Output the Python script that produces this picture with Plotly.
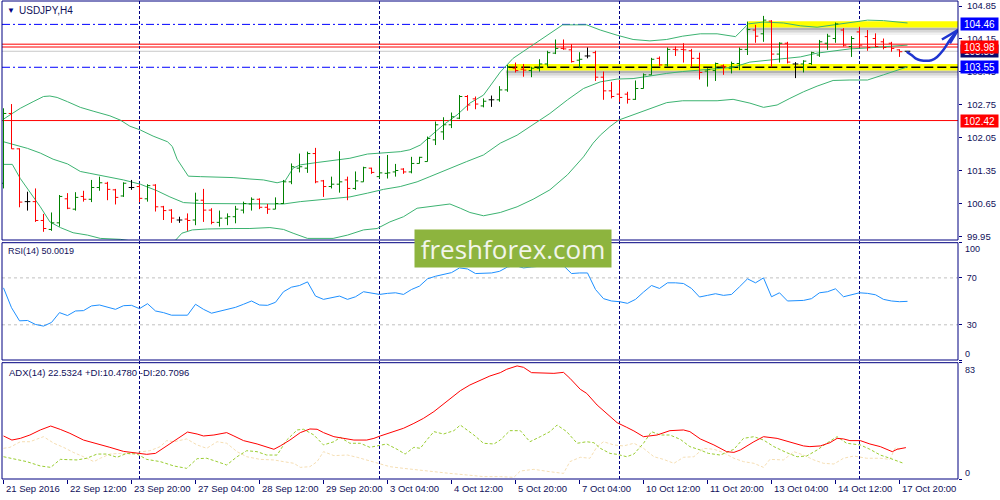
import plotly.graph_objects as go

# ---------------- data ----------------
symbol_title = "USDJPY,H4"
rsi_title = "RSI(14) 50.0019"
adx_title = "ADX(14) 22.5324 +DI:10.4780 -DI:20.7096"

bar_open = [101.09, 102.57, 101.82, 100.70, 100.70, 100.30, 100.11, 100.25, 100.76, 100.54,
            100.81, 100.75, 101.00, 101.09, 100.95, 100.82, 101.00, 101.02, 100.76, 101.05,
            100.59, 100.52, 100.31, 100.33, 100.31, 100.73, 100.52, 100.26, 100.35, 100.38,
            100.52, 100.65, 100.75, 100.58, 100.54, 100.66, 101.12, 101.41, 101.41, 101.72,
            101.14, 101.02, 101.07, 101.16, 100.98, 101.12, 101.41, 101.23, 101.30, 101.33,
            101.39, 101.33, 101.51, 101.55, 102.01, 102.18, 102.33, 102.47, 102.93, 102.88,
            102.73, 102.86, 102.86, 103.07, 103.53, 103.51, 103.48, 103.53, 103.62, 103.85,
            103.95, 103.92, 103.70, 103.79, 103.86, 103.34, 103.05, 102.98, 102.98, 102.87,
            103.10, 103.39, 103.74, 103.60, 103.93, 103.93, 103.90, 103.74, 103.47, 103.48,
            103.58, 103.53, 103.63, 103.93, 104.34, 104.26, 104.53, 103.83, 104.06, 103.62,
            103.62, 103.63, 103.81, 104.06, 104.16, 104.34, 103.99, 104.30, 104.20, 104.16,
            104.09, 104.06, 103.92, 103.89]
bar_high = [102.68, 102.77, 101.83, 100.91, 100.98, 100.44, 100.47, 100.84, 100.88, 100.90,
            100.93, 101.16, 101.23, 101.12, 100.97, 101.11, 101.16, 101.07, 101.07, 101.07,
            100.61, 100.54, 100.38, 100.45, 100.89, 100.97, 100.56, 100.51, 100.45, 100.61,
            100.70, 100.79, 100.77, 100.65, 100.79, 101.16, 101.51, 101.72, 101.76, 101.84,
            101.16, 101.23, 101.77, 101.23, 101.34, 101.44, 101.42, 101.62, 101.69, 101.50,
            101.41, 101.65, 101.65, 102.08, 102.40, 102.49, 102.59, 102.96, 102.96, 102.93,
            102.89, 102.95, 103.15, 103.60, 103.65, 103.62, 103.56, 103.72, 103.90, 104.14,
            104.14, 104.04, 103.87, 103.97, 103.90, 103.46, 103.24, 103.28, 103.03, 103.27,
            103.42, 103.75, 103.78, 103.97, 103.99, 104.06, 103.94, 103.86, 103.53, 103.65,
            103.61, 103.67, 103.97, 104.52, 104.45, 104.64, 104.55, 104.08, 104.09, 103.66,
            103.70, 103.88, 104.13, 104.26, 104.50, 104.38, 104.21, 104.41, 104.34, 104.27,
            104.16, 104.09, 103.93, 103.89]
bar_low = [100.98, 101.82, 100.58, 100.51, 100.27, 100.06, 100.08, 100.17, 100.54, 100.51,
           100.70, 100.69, 100.93, 100.73, 100.64, 100.80, 100.95, 100.69, 100.70, 100.49,
           100.31, 100.25, 100.25, 100.08, 100.20, 100.27, 100.22, 100.17, 100.20, 100.24,
           100.45, 100.51, 100.54, 100.44, 100.54, 100.65, 101.07, 101.32, 101.31, 101.09,
           100.80, 100.98, 100.89, 100.73, 100.95, 101.12, 101.29, 101.19, 101.19, 101.23,
           101.29, 101.30, 101.51, 101.55, 101.90, 102.01, 102.26, 102.45, 102.63, 102.66,
           102.70, 102.71, 102.82, 103.03, 103.44, 103.35, 103.34, 103.46, 103.56, 103.83,
           103.92, 103.65, 103.53, 103.74, 103.26, 102.86, 102.89, 102.82, 102.78, 102.86,
           103.10, 103.39, 103.58, 103.56, 103.79, 103.65, 103.56, 103.29, 103.14, 103.26,
           103.39, 103.42, 103.49, 103.81, 104.07, 104.09, 103.55, 103.65, 103.63, 103.32,
           103.44, 103.60, 103.77, 103.92, 104.07, 103.99, 103.77, 103.97, 103.90, 103.97,
           103.93, 103.88, 103.77, 103.85]
bar_close = [102.57, 101.82, 100.69, 100.70, 100.30, 100.13, 100.25, 100.81, 100.56, 100.79,
             100.75, 101.00, 101.10, 100.96, 100.79, 101.09, 101.00, 100.77, 101.04, 100.59,
             100.51, 100.35, 100.31, 100.30, 100.73, 100.52, 100.26, 100.35, 100.38, 100.54,
             100.66, 100.75, 100.58, 100.54, 100.66, 101.12, 101.44, 101.44, 101.72, 101.12,
             101.02, 101.07, 101.12, 100.98, 101.14, 101.42, 101.32, 101.31, 101.31, 101.36,
             101.33, 101.51, 101.64, 102.04, 102.33, 102.33, 102.50, 102.93, 102.75, 102.77,
             102.83, 102.86, 103.07, 103.56, 103.48, 103.49, 103.53, 103.62, 103.86, 103.95,
             103.94, 103.67, 103.72, 103.79, 103.34, 103.05, 102.93, 102.91, 102.87, 103.10,
             103.39, 103.72, 103.60, 103.93, 103.92, 103.92, 103.74, 103.44, 103.50, 103.63,
             103.56, 103.63, 103.93, 104.35, 104.21, 104.55, 103.83, 104.06, 103.66, 103.62,
             103.68, 103.86, 104.09, 104.21, 104.47, 104.02, 104.16, 104.02, 103.97, 103.99,
             103.97, 103.95, 103.88, 103.89]

# Bollinger bands, (bar index, price) points
bb_upper_x = [0, 1.1, 2.1, 3.7, 5.0, 5.8, 6.7, 8.0, 9.6, 11.2, 13.3, 14.6, 15.8, 17.1, 18.7, 20.5,
              21.1, 21.7, 22.5, 23.1, 24.6, 28.7, 30.8, 32.5, 34.2, 35.2, 36.2, 37.1, 39.2, 41.7,
              43.3, 45.5, 47.5, 49.6, 50.8, 52.1, 53.3, 55.0, 56.7, 58.3, 60.0, 62.1, 63.7, 65.5,
              67.1, 68.3, 69.9, 72.9, 74.6, 76.7, 78.7, 80.8, 82.9, 84.9, 87.1, 89.2, 91.5, 93.1,
              95.0, 97.5, 99.6, 101.7, 103.7, 105.8, 108.0, 110.0, 113]
bb_upper_y = [102.45, 102.57, 102.68, 102.82, 102.93, 102.94, 102.91, 102.82, 102.70, 102.62,
              102.52, 102.43, 102.30, 102.22, 102.09, 101.97, 101.87, 101.60, 101.41, 101.24,
              101.23, 101.21, 101.18, 101.16, 101.10, 101.14, 101.41, 101.48, 101.53, 101.58,
              101.62, 101.71, 101.74, 101.76, 101.80, 101.90, 102.08, 102.33, 102.54, 102.79,
              102.96, 103.45, 103.74, 103.95, 104.13, 104.27, 104.45, 104.45, 104.34, 104.23,
              104.14, 104.11, 104.14, 104.21, 104.26, 104.26, 104.20, 104.47, 104.51, 104.49,
              104.43, 104.40, 104.45, 104.49, 104.55, 104.54, 104.49]
bb_mid_x = [0, 1.2, 3.0, 4.6, 6.2, 8.0, 9.6, 10.8, 13.0, 15.0, 17.1, 19.2, 20.8, 22.5, 24.6, 28.7,
            30.8, 32.9, 35.0, 37.1, 39.2, 41.7, 43.3, 45.5, 47.5, 49.6, 51.7, 53.3, 55.8, 57.9,
            60.0, 62.1, 64.2, 66.2, 68.3, 70.5, 72.5, 74.6, 76.7, 78.7, 80.8, 82.9, 84.9, 87.1,
            89.2, 91.2, 93.3, 95.5, 97.5, 99.6, 101.7, 103.7, 105.8, 108.0, 110.0, 113]
bb_mid_y = [101.97, 101.92, 101.83, 101.73, 101.60, 101.50, 101.34, 101.30, 101.23, 101.16,
            101.07, 100.93, 100.80, 100.68, 100.66, 100.66, 100.65, 100.65, 100.65, 100.70,
            100.73, 100.77, 100.80, 100.88, 100.96, 101.02, 101.12, 101.23, 101.41, 101.55,
            101.69, 101.94, 102.11, 102.33, 102.57, 102.86, 103.10, 103.24, 103.30, 103.31,
            103.37, 103.42, 103.46, 103.49, 103.51, 103.55, 103.66, 103.70, 103.73, 103.77,
            103.85, 103.90, 103.94, 103.96, 103.98, 104.02]
bb_low_x = [0, 1.1, 2.1, 3.3, 4.6, 5.8, 7.1, 8.7, 10.5, 12.1, 14.6, 17.1, 19.6, 21.5, 22.3, 23.6,
            25.5, 28.7, 30.8, 33.3, 35.0, 36.2, 38.0, 41.2, 43.0, 45.0, 46.7, 48.3, 50.0, 51.7,
            53.3, 55.8, 57.1, 58.3, 60.0, 62.1, 64.2, 66.2, 68.3, 70.5, 72.5, 73.7, 74.6, 75.8,
            76.9, 78.7, 80.8, 82.9, 84.9, 87.1, 89.2, 91.2, 93.3, 95.0, 96.7, 98.3, 100.0, 101.7,
            103.7, 105.8, 108.0, 110.0, 111.8, 113]
bb_low_y = [101.49, 101.49, 101.19, 100.91, 100.59, 100.27, 100.15, 100.04, 99.99, 99.92,
            99.90, 99.84, 99.82, 99.88, 100.03, 100.10, 100.12, 100.13, 100.13, 100.15,
            100.11, 100.03, 99.92, 99.92, 99.99, 100.10, 100.13, 100.27, 100.38, 100.56,
            100.59, 100.65, 100.56, 100.47, 100.40, 100.47, 100.59, 100.75, 100.95, 101.27,
            101.65, 101.94, 102.11, 102.29, 102.43, 102.54, 102.66, 102.80, 102.84, 102.84,
            102.84, 102.87, 102.79, 102.70, 102.75, 102.89, 103.03, 103.15, 103.27, 103.28,
            103.28, 103.39, 103.49, 103.56]

# RSI(14), one value per bar
rsi_values = [61.5, 44.6, 33.4, 33.7, 30.3, 28.9, 32.0, 40.4, 37.9, 41.8,
              42.1, 46.1, 46.9, 45.2, 43.2, 46.3, 46.6, 43.8, 48.0, 41.8,
              40.4, 38.2, 38.2, 38.2, 47.5, 43.2, 39.9, 41.5, 43.2, 44.9,
              47.5, 50.3, 46.9, 46.6, 49.2, 58.2, 62.1, 63.5, 66.6, 54.5,
              51.7, 52.8, 54.5, 51.7, 53.9, 58.2, 56.8, 55.9, 56.8, 57.3,
              55.9, 60.1, 63.0, 69.2, 71.4, 72.8, 74.5, 78.5, 77.6, 73.7,
              74.2, 74.2, 75.6, 79.3, 80.4, 78.5, 79.3, 79.9, 81.3, 82.1,
              80.4, 73.7, 74.2, 74.2, 60.1, 52.3, 50.3, 49.7, 48.3, 51.7,
              57.9, 63.5, 61.0, 65.8, 65.8, 65.2, 61.0, 53.7, 55.1, 56.5,
              55.1, 55.9, 62.4, 69.2, 65.8, 70.0, 53.9, 57.3, 50.3, 50.3,
              50.8, 52.3, 57.3, 58.2, 60.7, 53.9, 55.9, 57.3, 56.8, 55.6,
              51.7, 50.3, 49.7, 50.0]

# ADX(14) and directional lines, (bar index, value) points
adx_x = [0, 1.05, 2.1, 3.3, 4.6, 5.9, 7.1, 8.3, 10.0, 11.3, 13.3, 15.0, 17.0, 17.9, 19.0, 20.4,
         21.7, 23.0, 24.2, 25.0, 26.3, 27.9, 28.8, 30.0, 31.7, 32.9, 33.8, 34.6, 35.8, 37.1,
         38.3, 39.2, 40.0, 41.3, 43.0, 43.8, 45.4, 46.3, 47.1, 48.8, 50.0, 51.3, 52.5, 53.8,
         55.0, 56.0, 57.1, 58.3, 59.6, 60.8, 62.1, 62.9, 64.2, 65.0, 66.0, 67.5, 68.8, 70.0,
         70.8, 72.1, 72.9, 74.2, 75.4, 76.7, 77.9, 78.8, 80.0, 81.7, 83.3, 85.0, 85.8, 87.1,
         88.8, 90.4, 91.3, 92.1, 93.8, 95.0, 96.7, 98.3, 100.0, 100.8, 102.1, 103.3, 104.2,
         105.0, 105.8, 107.1, 108.3, 109.6, 111.1, 111.7, 112.8]
adx_v = [30.7, 27.8, 29.0, 31.4, 35.0, 37.8, 35.4, 32.6, 27.8, 25.9, 22.6, 19.7, 18.3, 17.6,
         18.3, 23.6, 28.6, 33.5, 32.1, 30.7, 31.4, 33.1, 30.7, 27.4, 25.0, 22.6, 21.2, 23.6,
         27.8, 33.1, 35.7, 35.5, 33.1, 30.2, 28.3, 27.8, 27.8, 29.0, 30.7, 33.8, 36.2, 39.7,
         43.3, 48.1, 53.3, 57.6, 63.0, 67.1, 70.7, 73.5, 75.9, 78.3, 80.7, 79.7, 75.9, 75.4,
         75.4, 76.1, 71.9, 64.0, 61.1, 52.8, 46.9, 40.2, 36.9, 34.3, 30.2, 31.4, 34.5, 35.0,
         33.8, 28.6, 24.3, 19.5, 19.0, 20.7, 26.6, 30.2, 29.0, 26.6, 23.6, 23.1, 23.6, 25.9,
         29.0, 28.6, 27.4, 27.4, 25.0, 23.1, 19.5, 21.2, 22.4]
pdi_x = [0, 1.3, 2.9, 4.6, 5.9, 7.1, 9.2, 10.4, 11.7, 12.9, 14.2, 15.4, 16.7, 17.9, 19.6, 21.3,
         22.9, 24.2, 25.4, 26.7, 27.9, 29.2, 30.4, 31.7, 32.9, 34.2, 35.4, 36.7, 37.5, 38.8,
         40.0, 41.3, 42.1, 43.3, 44.6, 45.8, 47.1, 47.9, 49.2, 50.2, 51.3, 52.1, 52.9, 53.8,
         55.0, 56.3, 57.1, 58.8, 60.0, 61.3, 62.1, 63.3, 64.6, 65.8, 67.1, 68.3, 69.2, 70.4,
         71.7, 72.9, 73.8, 74.6, 75.8, 76.7, 77.9, 78.8, 80.0, 81.0, 82.1, 83.3, 84.6, 85.8,
         87.1, 88.1, 89.6, 91.3, 92.5, 93.8, 95.0, 96.3, 97.9, 99.2, 100.4, 101.7, 102.9,
         104.2, 105.4, 107.1, 108.3, 109.6, 110.8, 112.5]
pdi_v = [15.9, 14.3, 12.4, 9.3, 8.3, 14.0, 13.6, 14.8, 17.8, 17.8, 15.5, 18.3, 17.8, 14.0,
         12.4, 9.3, 7.6, 14.5, 14.8, 12.4, 10.0, 15.9, 20.2, 19.5, 17.1, 17.1, 27.8, 35.0,
         35.5, 31.4, 24.3, 26.6, 29.7, 25.5, 25.5, 22.6, 24.3, 25.0, 21.2, 17.8, 22.6, 21.9,
         27.8, 33.8, 32.1, 34.5, 38.5, 31.4, 25.5, 25.0, 27.8, 34.5, 34.5, 26.6, 30.2, 33.8,
         38.5, 33.8, 25.5, 26.6, 25.9, 21.9, 18.3, 17.6, 15.9, 17.8, 25.5, 33.8, 31.4, 31.4,
         28.3, 23.1, 20.7, 18.3, 17.1, 21.2, 29.0, 30.2, 27.8, 23.1, 18.8, 15.9, 16.4, 20.7,
         25.5, 30.2, 25.5, 24.3, 21.2, 17.1, 14.8, 11.2]
mdi_x = [0, 0.8, 2.1, 3.3, 5.0, 6.3, 7.5, 8.8, 10.0, 11.3, 12.1, 13.3, 14.6, 15.8, 17.0, 18.3,
         19.6, 20.4, 21.3, 22.9, 24.2, 25.4, 26.7, 27.9, 29.2, 30.4, 32.1, 33.8, 35.0, 36.3,
         37.1, 38.3, 39.2, 40.0, 41.3, 43.0, 44.2, 45.4, 47.1, 48.3, 50.0, 51.7, 53.8, 55.8,
         57.9, 60.0, 62.1, 63.8, 64.6, 66.3, 68.3, 70.0, 70.8, 72.1, 73.3, 74.2, 75.0, 76.3,
         77.5, 78.8, 80.0, 81.3, 82.5, 83.8, 85.0, 86.3, 87.5, 88.8, 90.0, 91.3, 92.5, 93.8,
         95.0, 95.8, 97.5, 98.8, 100.0, 101.3, 102.5, 103.8, 105.0, 106.3, 107.9, 109.6,
         110.8, 111.5, 112.1]
mdi_v = [21.9, 22.6, 26.6, 26.6, 30.2, 25.5, 22.6, 18.8, 15.9, 12.4, 14.8, 17.8, 18.3, 17.8,
         19.3, 20.2, 23.1, 27.4, 26.6, 28.6, 24.3, 21.9, 26.6, 25.5, 19.5, 15.9, 14.0, 13.6,
         12.4, 11.2, 8.3, 8.8, 12.4, 19.5, 16.7, 17.1, 15.5, 13.6, 10.7, 8.8, 7.6, 6.4, 5.0,
         4.0, 2.9, 1.7, 1.7, 1.2, 5.7, 6.9, 5.2, 4.0, 12.4, 15.5, 14.8, 23.1, 26.6, 24.3,
         23.6, 25.5, 21.9, 15.9, 14.0, 11.2, 15.5, 15.9, 21.9, 21.2, 18.8, 14.8, 12.4, 11.2,
         8.3, 14.0, 13.6, 19.5, 17.1, 13.6, 11.2, 10.7, 14.8, 16.4, 14.8, 14.8, 14.0, 22.6,
         20.7]

# time axis
x_tick_bars = [0, 8, 16, 24, 32, 40, 48, 56, 64, 72, 80, 88, 96, 104, 112]
x_tick_labels = ["21 Sep 2016", "22 Sep 12:00", "23 Sep 20:00", "27 Sep 04:00", "28 Sep 12:00",
                 "29 Sep 20:00", "3 Oct 04:00", "4 Oct 12:00", "5 Oct 20:00", "7 Oct 04:00",
                 "10 Oct 12:00", "11 Oct 20:00", "13 Oct 04:00", "14 Oct 12:00", "17 Oct 20:00"]
week_separator_bars = [17, 47, 77, 107]

price_ticks = [104.85, 104.15, 103.45, 102.75, 102.05, 101.35, 100.65, 99.95]
rsi_levels = [70, 30]

resistance_level = 104.46
support_level = 103.55
red_levels = [104.04, 103.98, 102.42]
bid_price = 103.89
resistance_zone_start = 93.1   # bar index where the yellow zone starts
support_zone_start = 63.1

# hand-drawn forecast arrow (bar index, price)
arrow_x = [112.9, 113.5, 114.0, 114.6, 116.0, 116.7, 117.5, 118.3, 119.0, 119.3]
arrow_y = [103.88, 103.81, 103.74, 103.70, 103.70, 103.77, 103.92, 104.13, 104.28, 104.34]
arrow_head_x = [117.3, 119.3, 118.3]
arrow_head_y = [104.14, 104.34, 104.06]

# price label boxes on the right axis: (price, background)
price_boxes = [(103.89, "#0b0b6e"), (104.46, "#0000FF"), (103.55, "#0000FF"),
               (103.98, "#FF0000"), (102.42, "#FF0000")]

# ---------------- layout geometry ----------------
W, H = 1000, 500
ML, MR, MT, MB = 2, 42, 1, 21
PW = W - ML - MR
PH = H - MT - MB


def ypaper(px):
    return (H - MB - px) / PH


def xpaper(px):
    return (px - ML) / PW


MAIN_DOM = [ypaper(240), ypaper(1)]
RSI_DOM = [ypaper(360), ypaper(242.7)]
ADX_DOM = [ypaper(479), ypaper(362.7)]
X_RANGE = [-0.1875, 119.3125]
PRICE_RANGE = [99.886, 104.956]
PX_PER_PRICE = (240 - 1) / (PRICE_RANGE[1] - PRICE_RANGE[0])

NAVY = "#000080"
TXT = "#10105a"
FONT = "Liberation Sans, Arial, sans-serif"
TICK = 0.35

fig = go.Figure()

# Bollinger bands
for bx, by in [(bb_upper_x, bb_upper_y), (bb_mid_x, bb_mid_y), (bb_low_x, bb_low_y)]:
    fig.add_trace(go.Scatter(x=bx, y=by, mode="lines", line=dict(color="#3CB371", width=1),
                             xaxis="x", yaxis="y", hoverinfo="skip"))

# OHLC bars, coloured by direction
groups = {"#008000": [], "#FF0000": [], "#000000": []}
for i in range(len(bar_open)):
    if bar_close[i] > bar_open[i]:
        groups["#008000"].append(i)
    elif bar_close[i] < bar_open[i]:
        groups["#FF0000"].append(i)
    else:
        groups["#000000"].append(i)
for col, idx in groups.items():
    xs, ys = [], []
    for i in idx:
        xs += [i, i, None, i - TICK, i, None, i, i + TICK, None]
        ys += [bar_low[i], bar_high[i], None, bar_open[i], bar_open[i], None,
               bar_close[i], bar_close[i], None]
    fig.add_trace(go.Scatter(x=xs, y=ys, mode="lines", line=dict(color=col, width=1),
                             xaxis="x", yaxis="y", hoverinfo="skip"))

# forecast arrow
fig.add_trace(go.Scatter(x=arrow_x, y=arrow_y, mode="lines",
                         line=dict(color="#1f35d0", width=2.5, shape="spline"),
                         xaxis="x", yaxis="y", hoverinfo="skip"))
fig.add_trace(go.Scatter(x=arrow_head_x, y=arrow_head_y, mode="lines",
                         line=dict(color="#1f35d0", width=2.5),
                         xaxis="x", yaxis="y", hoverinfo="skip"))

# RSI
fig.add_trace(go.Scatter(x=list(range(len(rsi_values))), y=rsi_values, mode="lines",
                         line=dict(color="#1E90FF", width=1), xaxis="x", yaxis="y2",
                         hoverinfo="skip"))

# ADX
fig.add_trace(go.Scatter(x=mdi_x, y=mdi_v, mode="lines",
                         line=dict(color="#F5DEB3", width=1, dash="3px,2px"),
                         xaxis="x", yaxis="y3", hoverinfo="skip"))
fig.add_trace(go.Scatter(x=pdi_x, y=pdi_v, mode="lines",
                         line=dict(color="#9ACD32", width=1, dash="3px,2px"),
                         xaxis="x", yaxis="y3", hoverinfo="skip"))
fig.add_trace(go.Scatter(x=adx_x, y=adx_v, mode="lines",
                         line=dict(color="#FF0000", width=1), xaxis="x", yaxis="y3",
                         hoverinfo="skip"))

shapes = []
# yellow zones with soft shadow
for lvl, x0 in [(resistance_level, resistance_zone_start), (support_level, support_zone_start)]:
    half = 3.2 / PX_PER_PRICE
    for k, op in [(1, 0.22), (2, 0.14), (3, 0.07)]:
        shapes.append(dict(type="rect", xref="x", yref="y", x0=x0 - 0.3, x1=X_RANGE[1],
                           y0=lvl - half - (k * 2.5) / PX_PER_PRICE, y1=lvl - half,
                           fillcolor="rgba(60,60,60,%.2f)" % op, line=dict(width=0),
                           layer="below"))
    shapes.append(dict(type="rect", xref="x", yref="y", x0=x0, x1=X_RANGE[1],
                       y0=lvl - half, y1=lvl + half, fillcolor="#FFFF00",
                       line=dict(width=0), layer="below"))

# horizontal levels
for lvl in [resistance_level, support_level]:
    shapes.append(dict(type="line", xref="paper", yref="y", x0=0, x1=1, y0=lvl, y1=lvl,
                       line=dict(color="#0000FF", width=1, dash="8px,3px,2px,3px"),
                       layer="below"))
shapes.append(dict(type="line", xref="x", yref="y", x0=support_zone_start, x1=X_RANGE[1],
                   y0=support_level, y1=support_level,
                   line=dict(color="#000000", width=1.5, dash="9px,4px"), layer="below"))
for lvl in red_levels:
    shapes.append(dict(type="line", xref="paper", yref="y", x0=0, x1=1, y0=lvl, y1=lvl,
                       line=dict(color="#FF0000", width=1), layer="below"))
shapes.append(dict(type="line", xref="paper", yref="y", x0=0, x1=1, y0=bid_price,
                   y1=bid_price, line=dict(color="#C8C8C8", width=1), layer="below"))

# RSI levels
for lvl in rsi_levels:
    shapes.append(dict(type="line", xref="paper", yref="y2", x0=0, x1=1, y0=lvl, y1=lvl,
                       line=dict(color="#C0C0C0", width=1, dash="3px,3px"), layer="below"))

# week separators
for b in week_separator_bars:
    shapes.append(dict(type="line", xref="x", yref="paper", x0=b, x1=b, y0=0, y1=1,
                       line=dict(color=NAVY, width=1, dash="3px,2px"), layer="below"))

# pane borders
for dom in [MAIN_DOM, RSI_DOM, ADX_DOM]:
    shapes.append(dict(type="rect", xref="paper", yref="paper", x0=0, x1=1,
                       y0=dom[0], y1=dom[1], line=dict(color=NAVY, width=1),
                       fillcolor="rgba(0,0,0,0)", layer="above"))

annotations = []
# titles
annotations.append(dict(text="▼", x=xpaper(5), y=ypaper(10), xref="paper", yref="paper",
                        xanchor="left", yanchor="middle", showarrow=False,
                        font=dict(family=FONT, size=8, color=NAVY)))
annotations.append(dict(text=symbol_title, x=xpaper(17), y=ypaper(10), xref="paper",
                        yref="paper", xanchor="left", yanchor="middle", showarrow=False,
                        font=dict(family=FONT, size=10, color=TXT)))
annotations.append(dict(text=rsi_title, x=xpaper(6), y=ypaper(251.5), xref="paper",
                        yref="paper", xanchor="left", yanchor="middle", showarrow=False,
                        font=dict(family=FONT, size=9, color=TXT)))
annotations.append(dict(text=adx_title, x=xpaper(7), y=ypaper(372), xref="paper",
                        yref="paper", xanchor="left", yanchor="middle", showarrow=False,
                        font=dict(family=FONT, size=9.5, color=TXT)))

# x-axis labels (left aligned at their ticks)
for b, lab in zip(x_tick_bars, x_tick_labels):
    annotations.append(dict(text=lab, x=b, y=ypaper(488.5), xref="x", yref="paper",
                            xanchor="left", yanchor="middle", xshift=0, showarrow=False,
                            font=dict(family=FONT, size=9.5, color=TXT)))

# extreme scale labels of the indicator panes
for txt, py in [("100", 249), ("0", 353.5), ("83", 369.5), ("0", 472.5)]:
    annotations.append(dict(text=txt, x=xpaper(963), y=ypaper(py), xref="paper",
                            yref="paper", xanchor="left", yanchor="middle", showarrow=False,
                            font=dict(family=FONT, size=9, color=TXT)))

# price label boxes
for p, bg in price_boxes:
    annotations.append(dict(text="%.2f" % p, x=xpaper(960), y=p, xref="paper", yref="y",
                            xanchor="left", yanchor="middle", showarrow=False,
                            bgcolor=bg, width=37, height=12, borderpad=0, align="center",
                            font=dict(family=FONT, size=10, color="#FFFFFF")))

# watermark
annotations.append(dict(text="freshforex.com", x=xpaper(513), y=ypaper(248.5),
                        xref="paper", yref="paper", xanchor="center", yanchor="middle",
                        showarrow=False, bgcolor="#8DB43E", width=196, height=37,
                        borderpad=0, font=dict(family="Open Sans", size=26, color="#F2F5EA")))

axis_common = dict(showgrid=False, zeroline=False, showline=False, fixedrange=True)

fig.update_layout(
    width=W, height=H,
    margin=dict(l=ML, r=MR, t=MT, b=MB, pad=0),
    paper_bgcolor="white", plot_bgcolor="white",
    showlegend=False, hovermode=False,
    shapes=shapes, annotations=annotations,
    xaxis=dict(domain=[0, 1], range=X_RANGE, anchor="y3", tickvals=x_tick_bars,
               ticktext=[""] * len(x_tick_bars), ticks="outside", ticklen=4,
               tickcolor=NAVY, tickwidth=1, **axis_common),
    yaxis=dict(domain=MAIN_DOM, range=PRICE_RANGE, anchor="x", side="right",
               tickvals=price_ticks, ticktext=["%.2f" % t for t in price_ticks],
               ticks="outside", ticklen=3, tickcolor=NAVY, ticklabelstandoff=3,
               tickfont=dict(family=FONT, size=9.5, color=TXT), **axis_common),
    yaxis2=dict(domain=RSI_DOM, range=[0, 100], anchor="x", side="right",
                tickvals=[100, 70, 30, 0], ticktext=["", "70", "30", ""],
                ticks="outside", ticklen=3, tickcolor=NAVY, ticklabelstandoff=3,
                tickfont=dict(family=FONT, size=9, color=TXT), **axis_common),
    yaxis3=dict(domain=ADX_DOM, range=[0, 83], anchor="x", side="right",
                tickvals=[83, 0], ticktext=["", ""], ticks="outside", ticklen=3,
                tickcolor=NAVY, **axis_common),
)

fig.write_html("out.html", config={"displayModeBar": False, "staticPlot": True},
               post_script="document.body.style.margin='0';document.body.style.padding='0';"
                           "document.documentElement.style.overflow='hidden';")
